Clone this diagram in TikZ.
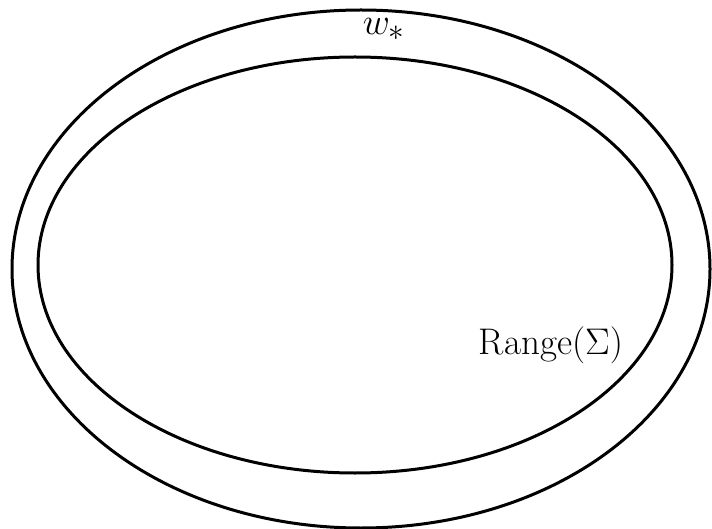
\documentclass[tikz,border=0pt]{standalone}
\usepackage{graphicx}
\begin{document}
\begin{tikzpicture}[x=1pt,y=-1pt,
  ring/.style={draw=black,line width=3pt},
  lbl/.style={inner sep=0pt,font=\Huge,anchor=base}]
\useasboundingbox (0,0) rectangle (712,529);
\draw[ring] (361,269) ellipse [x radius=349, y radius=259];
\draw[ring] (355,265) ellipse [x radius=317, y radius=208];
\node[lbl] (w) at (384,35) {\scalebox{1.5}{$w_*$}};
\node[lbl] (r) at (551,354) {\scalebox{1.49}{Range$(\Sigma)$}};
\end{tikzpicture}
\end{document}
